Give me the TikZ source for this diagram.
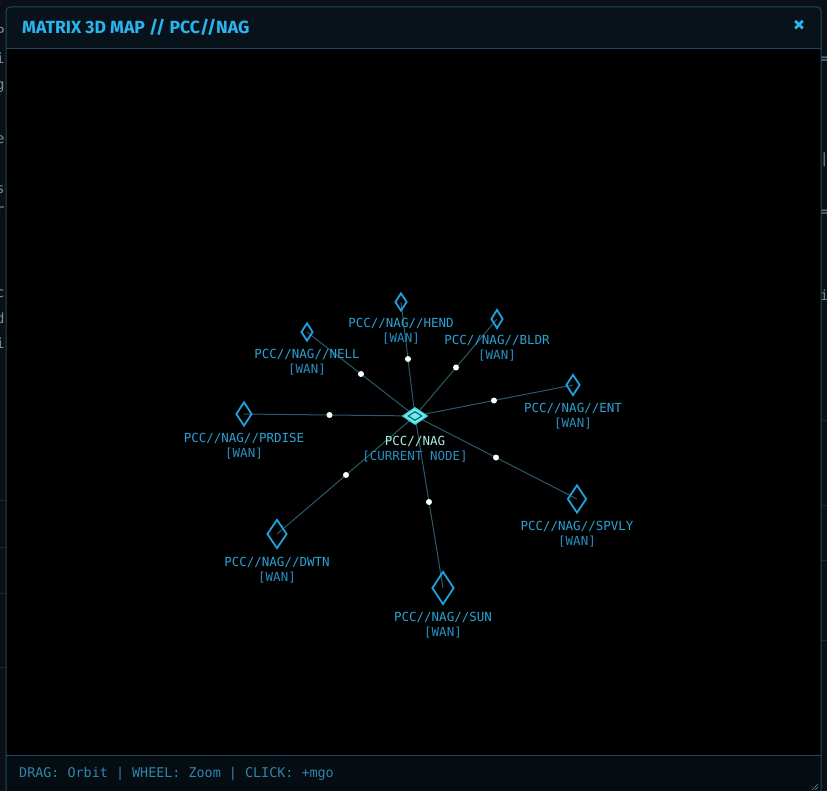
\documentclass[tikz,border=0pt]{standalone}
\usepackage{fontspec}
\setmonofont{DejaVu Sans Mono}
\newfontfamily\titlefont{Fira Sans}
\usetikzlibrary{shapes.geometric,calc}
\definecolor{pagebg}{HTML}{0A1015}
\definecolor{winborder}{HTML}{1E4A5E}
\definecolor{headbg}{HTML}{08121A}
\definecolor{bodybg}{HTML}{000000}
\definecolor{footbg}{HTML}{050C12}
\definecolor{titlecol}{HTML}{2AB4EE}
\definecolor{edgecol}{HTML}{2A5A6B}
\definecolor{diacol}{HTML}{1EA2DE}
\definecolor{lblcol}{HTML}{2AA2D6}
\definecolor{wancol}{HTML}{2690C2}
\definecolor{curfill}{HTML}{6EEEF0}
\definecolor{curedge}{HTML}{3FD6E0}
\definecolor{curinner}{HTML}{0E5A64}
\definecolor{curlbl}{HTML}{A6EEE2}
\definecolor{footcol}{HTML}{2E86AC}
\definecolor{ghost}{HTML}{7C8A94}
\definecolor{ghostline}{HTML}{1A2A34}
\pgfdeclarelayer{back}
\pgfdeclarelayer{edges}
\pgfsetlayers{back,edges,main}
\begin{document}
\begin{tikzpicture}[x=1pt,y=-1pt,
  dia/.style 2 args={diamond, draw=diacol, line width=1.8pt, inner sep=0pt, minimum width=#1pt, minimum height=#2pt},
  curdia/.style={diamond, fill=curfill, draw=curedge, line width=1.2pt, inner sep=0pt, minimum width=25pt, minimum height=17pt},
  curin/.style={diamond, draw=curinner, line width=1.1pt, inner sep=0pt, minimum width=14pt, minimum height=9pt},
  lbl/.style={text=lblcol, font=\ttfamily\fontsize{12.5}{14}\selectfont, inner sep=0pt},
  wan/.style={text=wancol, font=\ttfamily\fontsize{12.5}{14}\selectfont, inner sep=0pt},
  dotn/.style={circle, fill=white, inner sep=0pt, minimum size=6pt},
  edgeline/.style={draw=edgecol, line width=1pt},
  ghosttxt/.style={text=ghost, font=\ttfamily\fontsize{14}{16}\selectfont, inner sep=0pt, anchor=west}]
\useasboundingbox (0,0) rectangle (827,791);
\begin{pgfonlayer}{back}
\fill[pagebg] (0,0) rectangle (827,791);
% faint background page fragments
\foreach \yy in {500,547,593,667} \draw[ghostline] (0,\yy) -- (6,\yy);
\foreach \yy in {420,505,560,640} \draw[ghostline] (821,\yy) -- (827,\yy);
\node[ghosttxt] (g1) at (-4,32) {P};
\node[ghosttxt] (g2) at (-4,58) {i};
\node[ghosttxt] (g3) at (-4,87) {g};
\node[ghosttxt] (g4) at (-4,140) {e};
\node[ghosttxt] (g5) at (-4,190) {s};
\node[ghosttxt] (g6) at (-4,211) {r};
\node[ghosttxt] (g7) at (-4,294) {c};
\node[ghosttxt] (g8) at (-4,318) {d};
\node[ghosttxt] (g9) at (-4,343) {i};
\node[ghosttxt] (h1) at (820,60) {=};
\node[ghosttxt] (h2) at (820,160) {|};
\node[ghosttxt] (h3) at (820,213) {=};
\node[ghosttxt] (h4) at (820,295) {i};
% window
\begin{scope}
\clip[rounded corners=4pt] (6,7) rectangle (821,800);
\fill[bodybg] (6,7) rectangle (821,800);
\fill[headbg] (6,7) rectangle (821,49);
\fill[footbg] (6,755) rectangle (821,800);
\end{scope}
\draw[winborder, line width=1pt, rounded corners=4pt] (6,7) rectangle (821,800);
\draw[winborder, line width=1pt] (6,49) -- (821,49);
\draw[winborder, line width=1pt] (6,755) -- (821,755);
\draw[ghost, line width=0.6pt] (812,790) -- (818,784) (815,790) -- (818,787);
\end{pgfonlayer}
\node[anchor=west, text=titlecol, font=\titlefont\bfseries\fontsize{17.6}{20}\selectfont, inner sep=0pt] (title) at (22,27) {MATRIX 3D MAP // PCC//NAG};
\node[text=titlecol, font=\titlefont\bfseries\fontsize{24}{24}\selectfont, inner sep=0pt] (close) at (799,26) {×};
\node[anchor=west, text=footcol, font=\ttfamily\fontsize{13.4}{16}\selectfont, inner sep=0pt] (help) at (19,774) {DRAG: Orbit | WHEEL: Zoom | CLICK: +mgo};
% nodes
\node[curdia] (c) at (415,416) {};
\node[curin] (cin) at (c) {};
\node[text=curlbl, font=\ttfamily\fontsize{12.5}{14}\selectfont, inner sep=0pt] (cl) at (415,441) {PCC//NAG};
\node[wan] (cw) at (415,457) {[CURRENT NODE]};
\node[dia={12}{18}] (n1) at (401,302) {};
\node[dia={12}{19}] (n2) at (497,319) {};
\node[dia={12}{18}] (n3) at (307,332) {};
\node[dia={14}{21}] (n4) at (573,385) {};
\node[dia={16}{24}] (n5) at (244,414) {};
\node[dia={19}{28}] (n6) at (577,499) {};
\node[dia={20}{29}] (n7) at (277,534) {};
\node[dia={22}{33}] (n8) at (443,588) {};
\foreach \n/\t/\o in {n1/HEND/21,n2/BLDR/21,n3/NELL/22,n4/ENT/23,n5/PRDISE/24,n6/SPVLY/27,n7/DWTN/28,n8/SUN/29}{
  \node[lbl] (\n l) at ($(\n)+(0,\o)$) {PCC//NAG//\t};
  \node[wan] (\n w) at ($(\n l)+(0,16)$) {[WAN]};
  \node[dotn] (\n d) at ($(c)!0.5!(\n)$) {};
  \begin{pgfonlayer}{edges}
  \draw[edgeline] (c.center) -- (\n.center);
  \end{pgfonlayer}
}
\end{tikzpicture}
\end{document}
